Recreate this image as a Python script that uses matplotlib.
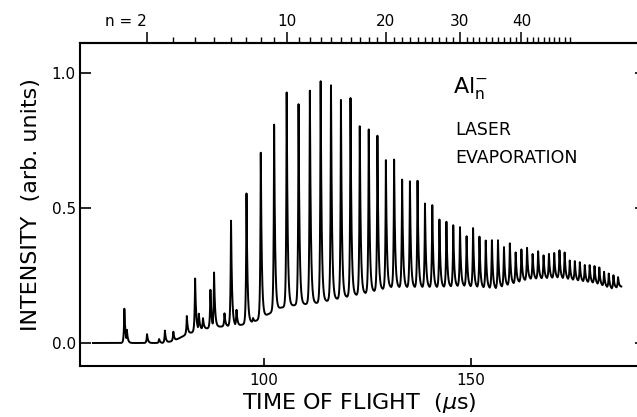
import numpy as np
import matplotlib
matplotlib.use("Agg")
import matplotlib.pyplot as plt

plt.rcParams['font.family'] = ['DejaVu Sans']
plt.rcParams['mathtext.default'] = 'regular'

# cluster sizes marked on the top scale, and the peak heights
n_sizes = list(range(2, 60))
peak_heights = [0.033, 0.042, 0.242, 0.262, 0.462, 0.563, 0.715, 0.82, 0.94,
                0.888, 0.955, 0.99, 0.974, 0.906, 0.915, 0.806, 0.80, 0.774, 0.678,
                0.688, 0.616, 0.604, 0.604, 0.517, 0.517, 0.462, 0.456, 0.437, 0.431,
                0.397, 0.428, 0.394, 0.384, 0.384, 0.384, 0.359, 0.373, 0.338, 0.35,
                0.354, 0.332, 0.342, 0.326, 0.332, 0.334, 0.344, 0.338, 0.307, 0.305,
                0.30, 0.29, 0.289, 0.285, 0.28, 0.264, 0.258, 0.252, 0.245]

# other features of the trace (Al- monomer, shoulders in the low mass region)
extra_t = [66.2, 66.8, 74.6, 76.0, 80.1, 81.3, 84.2, 85.2, 87.0, 90.4, 93.3, 97.3]
extra_h = [0.128, 0.05, 0.015, 0.046, 0.02, 0.10, 0.11, 0.093, 0.20, 0.11, 0.124, 0.093]

# level of the continuum between the peaks
base_t = [58, 76, 78.5, 81, 84.5, 89, 94, 97.8, 101.4, 104, 107.5, 113, 120, 125,
          130.5, 142, 148, 156, 164, 171, 180, 184, 187]
base_y = [0, 0, 0.01, 0.03, 0.05, 0.06, 0.065, 0.08, 0.11, 0.13, 0.14, 0.148, 0.17,
          0.185, 0.205, 0.205, 0.21, 0.20, 0.235, 0.24, 0.22, 0.2, 0.21]

top_major = [2, 10, 20, 30, 40]
top_minor = list(range(2, 50))


def t_of_n(n):
    # flight time calibration of the top scale (us)
    return 39.93 + 23.24 * np.asarray(n, dtype=float) ** 0.45


t = np.linspace(58.6, 186.3, 12000)
base = np.interp(t, base_t, base_y)
pk_t = np.concatenate([t_of_n(n_sizes), extra_t])
pk_h = np.concatenate([peak_heights, extra_h])
amp = pk_h - np.interp(pk_t, base_t, base_y)
dt = t[:, None] - pk_t[None, :]
width = np.where(dt < 0, 0.13, 0.24)
shape = np.exp(-np.abs(dt) / width) * amp[None, :]
signal = base + np.clip(shape.max(axis=1), 0, None)

fig = plt.figure(figsize=(6.37, 4.17), dpi=100)
ax = fig.add_axes([80 / 637, 51 / 417, 559 / 637, 323 / 417])
ax.plot(t, signal, color='black', lw=1.4)

ax.set_xlim(55.48, 190.58)
ax.set_ylim(-0.0852, 1.111)
ax.set_xticks([100, 150])
ax.set_yticks([0, 0.5, 1.0])
ax.set_yticklabels(['0.0', '0.5', '1.0'])
ax.tick_params(axis='x', direction='in', length=6, width=1.2, labelsize=11, pad=5)
ax.tick_params(axis='y', direction='in', length=8, width=1.2, labelsize=11, pad=3)
ax.spines['right'].set_visible(False)
for s in ['left', 'bottom', 'top']:
    ax.spines[s].set_linewidth(1.5)

sec = ax.secondary_yaxis('right')
sec.set_yticks([0, 0.5, 1.0])
sec.set_yticklabels([])
sec.tick_params(direction='in', length=3, width=1.2)

top = ax.twiny()
top.set_xlim(ax.get_xlim())
top.set_xticks(t_of_n(top_major))
top.set_xticks(t_of_n(top_minor), minor=True)
top.set_xticklabels(['n = 2'] + [str(n) for n in top_major[1:]])
top.get_xticklabels()[0].set_ha('right')
top.tick_params(axis='x', which='major', direction='out', length=8, width=1.1,
                labelsize=11, pad=2)
top.tick_params(axis='x', which='minor', direction='out', length=4.5, width=1.0)
for s in ['left', 'right', 'bottom']:
    top.spines[s].set_visible(False)
top.spines['top'].set_linewidth(1.5)

ax.set_ylabel('INTENSITY  (arb. units)', fontsize=16, labelpad=8)
ax.set_xlabel(r'TIME OF FLIGHT  ($\mathit{\mu}$s)', fontsize=16, labelpad=2)

ax.text(145.6, 0.926, r'Al$_n^{-}$', fontsize=16, va='baseline')
ax.text(146.1, 0.77, 'LASER', fontsize=12.5, va='baseline')
ax.text(146.1, 0.667, 'EVAPORATION', fontsize=12.5, va='baseline')

fig.savefig('out.png', dpi=100)
